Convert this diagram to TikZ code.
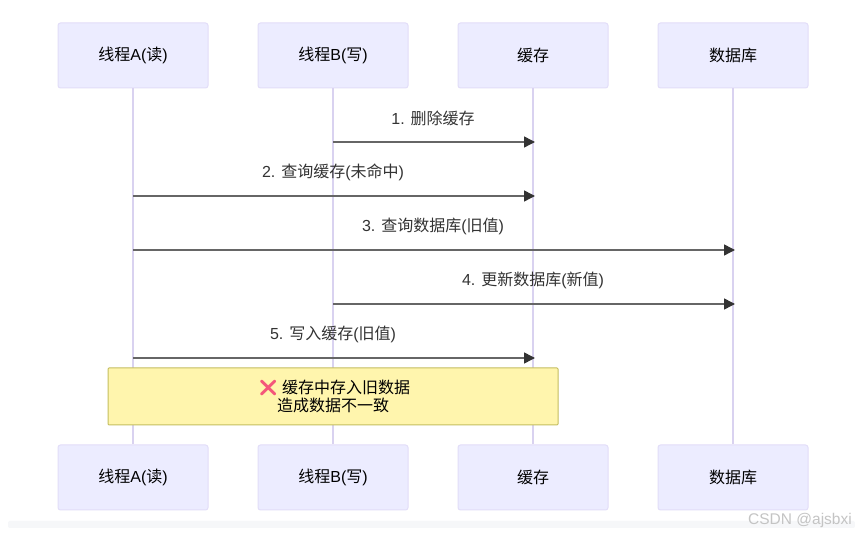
\documentclass[tikz,border=0pt]{standalone}
\usepackage{fontspec}
\setmainfont{Liberation Sans}
\newfontfamily\cjk{Noto Sans CJK SC}
\newfontfamily\emo{Noto Emoji}
\newcommand{\zh}[1]{{\cjk #1}}
\newcommand{\lowr}[1]{\raisebox{-1pt}{#1}}
\definecolor{actfill}{HTML}{ECECFF}
\definecolor{actline}{HTML}{E2DDF8}
\definecolor{lifeline}{HTML}{D9D2F0}
\definecolor{notefill}{HTML}{FFF5AD}
\definecolor{noteline}{HTML}{C4BE60}
\definecolor{msgline}{HTML}{666666}
\definecolor{msghead}{HTML}{333333}
\definecolor{msgtext}{HTML}{333333}
\definecolor{crosscol}{HTML}{F4567A}
\definecolor{strip}{HTML}{F6F7F9}
\definecolor{wmark}{HTML}{C4C4C4}
\usetikzlibrary{arrows.meta}
\tikzset{
  actor/.style={draw=actline,fill=actfill,line width=1pt,rounded corners=2.5pt,minimum width=150pt,minimum height=65pt,inner sep=0pt,font=\fontsize{16}{18}\selectfont,text=black},
  life/.style={draw=lifeline,line width=1.5pt},
  msg/.style={draw=msgline,line width=1.5pt,-{Triangle[length=11pt,width=11pt,color=msghead]},shorten >=-2pt},
  msglabel/.style={font=\fontsize{16}{18}\selectfont,text=msgtext,inner sep=0pt},
  notebox/.style={draw=noteline,fill=notefill,line width=1pt,rounded corners=1pt,minimum width=450pt,minimum height=57pt,inner sep=0pt},
  notetext/.style={font=\fontsize{16}{18}\selectfont,text=black,inner sep=0pt,anchor=base west}
}
\begin{document}
\begin{tikzpicture}[x=1pt,y=-1pt]
\useasboundingbox (0,0) rectangle (855,534);
\fill[white] (0,0) rectangle (855,534);
\fill[strip,rounded corners=2pt] (8,521) rectangle (855,528);
% top actors
\node[actor] (a1) at (133,55.5) {\lowr{\zh{线程}A(\zh{读})}};
\node[actor] (a2) at (333,55.5) {\lowr{\zh{线程}B(\zh{写})}};
\node[actor] (a3) at (533,55.5) {\lowr{\zh{缓存}}};
\node[actor] (a4) at (733,55.5) {\lowr{\zh{数据库}}};
% bottom actors
\node[actor] (b1) at (133,477.5) {\lowr{\zh{线程}A(\zh{读})}};
\node[actor] (b2) at (333,477.5) {\lowr{\zh{线程}B(\zh{写})}};
\node[actor] (b3) at (533,477.5) {\lowr{\zh{缓存}}};
\node[actor] (b4) at (733,477.5) {\lowr{\zh{数据库}}};
% lifelines
\draw[life] (a1) -- (b1);
\draw[life] (a2) -- (b2);
\draw[life] (a3) -- (b3);
\draw[life] (a4) -- (b4);
% message rows
\coordinate (m1s) at (a2.south |- 0,142);
\coordinate (m1e) at (a3.south |- 0,142);
\coordinate (m2s) at (a1.south |- 0,196);
\coordinate (m2e) at (a3.south |- 0,196);
\coordinate (m3s) at (a1.south |- 0,250);
\coordinate (m3e) at (a4.south |- 0,250);
\coordinate (m4s) at (a2.south |- 0,304);
\coordinate (m4e) at (a4.south |- 0,304);
\coordinate (m5s) at (a1.south |- 0,358);
\coordinate (m5e) at (a3.south |- 0,358);
\draw[msg] (m1s) -- (m1e);
\draw[msg] (m2s) -- (m2e);
\draw[msg] (m3s) -- (m3e);
\draw[msg] (m4s) -- (m4e);
\draw[msg] (m5s) -- (m5e);
\node[msglabel] (l1) at (433,118) {1. \zh{删除缓存}};
\node[msglabel] (l2) at (333,172) {2. \zh{查询缓存}(\zh{未命中})};
\node[msglabel] (l3) at (433,226) {3. \zh{查询数据库}(\zh{旧值})};
\node[msglabel] (l4) at (533,280) {4. \zh{更新数据库}(\zh{新值})};
\node[msglabel] (l5) at (333,334) {5. \zh{写入缓存}(\zh{旧值})};
% note
\node[notebox] (n) at (333,396.5) {};
\node[notetext,text=crosscol] (nx) at (258,394) {\emo ❌};
\node[notetext] (n1) at (282,394) {\zh{缓存中存入旧数据}};
\node[notetext] (n2) at (277,412) {\zh{造成数据不一致}};
% watermark
\node[font=\fontsize{15.5}{18}\selectfont,text=wmark,inner sep=0pt,anchor=east] (wm) at (852,520) {CSDN @ajsbxi};
\end{tikzpicture}
\end{document}
